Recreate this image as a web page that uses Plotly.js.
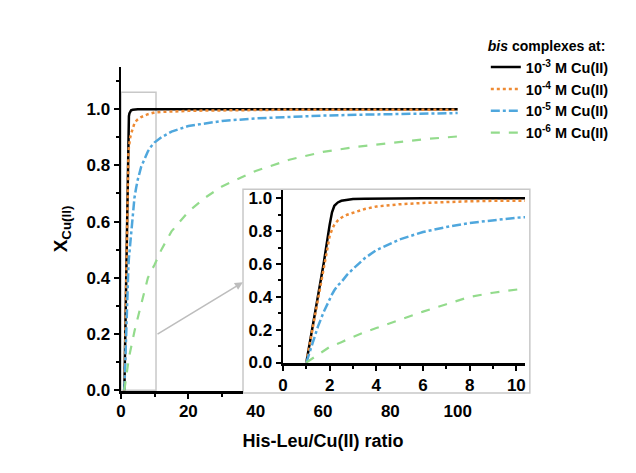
<!DOCTYPE html>
<html><head><meta charset="utf-8">
<script src="https://cdn.plot.ly/plotly-3.0.1.min.js"></script>
<style>body{margin:0;background:#fff}#chart{width:636px;height:473px}</style>
</head><body><div id="chart"></div>
<script>
// His-Leu/Cu(II) ratio
const ratio = [1, 1.25, 1.5, 1.75, 2, 2.1, 2.2, 2.35, 2.5, 2.75, 3, 3.5, 4, 4.5, 5, 6, 7, 8, 9, 10, 12, 15, 20, 25, 30, 40, 50, 60, 70, 80, 90, 100];
// fraction of bis complex at each Cu(II) concentration
const bis1e3 = [0, 0.2, 0.4, 0.61, 0.84, 0.915, 0.955, 0.975, 0.985, 0.992, 0.996, 0.998, 0.999, 1, 1, 1, 1, 1, 1, 1, 1, 1, 1, 1, 1, 1, 1, 1, 1, 1, 1, 1];
const bis1e4 = [0, 0.19, 0.38, 0.57, 0.77, 0.81, 0.84, 0.865, 0.882, 0.9, 0.912, 0.935, 0.95, 0.958, 0.964, 0.972, 0.978, 0.982, 0.985, 0.988, 0.99, 0.992, 0.994, 0.995, 0.996, 0.997, 0.998, 0.998, 0.998, 0.998, 0.998, 0.998];
const bis1e5 = [0, 0.11, 0.22, 0.31, 0.39, 0.415, 0.44, 0.47, 0.49, 0.535, 0.57, 0.635, 0.685, 0.72, 0.75, 0.795, 0.825, 0.85, 0.868, 0.882, 0.9, 0.92, 0.94, 0.95, 0.958, 0.967, 0.973, 0.977, 0.98, 0.982, 0.984, 0.986];
const bis1e6 = [0, 0.025, 0.05, 0.072, 0.095, 0.1, 0.107, 0.115, 0.124, 0.14, 0.156, 0.185, 0.21, 0.235, 0.26, 0.31, 0.355, 0.4, 0.425, 0.447, 0.5, 0.565, 0.635, 0.685, 0.725, 0.78, 0.82, 0.848, 0.866, 0.88, 0.893, 0.903];
const seriesNames = ['10<sup>-3</sup> M Cu(II)', '10<sup>-4</sup> M Cu(II)', '10<sup>-5</sup> M Cu(II)', '10<sup>-6</sup> M Cu(II)'];
const seriesY = [bis1e3, bis1e4, bis1e5, bis1e6];
const colors = ['#000000', '#EE8A33', '#4FA7DD', '#93DB8C'];
const dashes = ['solid', 'dot', 'dashdot', 'dash'];
const widths = [2.5, 2.5, 2.5, 2.2];
const mainXTicks = [0, 20, 40, 60, 80, 100];

const FONT = 'Liberation Sans, Arial, sans-serif';
const traces = [];
seriesY.forEach((ys, i) => {
  traces.push({x: ratio, y: ys, name: seriesNames[i], type: 'scatter', mode: 'lines',
    line: {color: colors[i], dash: dashes[i], width: widths[i]}, xaxis: 'x', yaxis: 'y', hoverinfo: 'skip'});
});
seriesY.forEach((ys, i) => {
  traces.push({x: ratio, y: ys, name: seriesNames[i], type: 'scatter', mode: 'lines', showlegend: false,
    line: {color: colors[i], dash: dashes[i], width: widths[i]}, xaxis: 'x2', yaxis: 'y2', hoverinfo: 'skip', cliponaxis: true});
});
traces.push({x: [null], y: [null], xaxis: 'x3', yaxis: 'y', showlegend: false, hoverinfo: 'skip', mode: 'lines'});

const tickFont = {family: FONT, size: 17, color: '#000', weight: 'bold'};
const layout = {
  width: 636, height: 473,
  margin: {l: 121, r: 111, t: 67, b: 82},
  paper_bgcolor: '#ffffff', plot_bgcolor: 'rgba(0,0,0,0)',
  showlegend: true,
  font: {family: FONT, color: '#000'},
  xaxis: {domain: [0, 1], range: [0, 120], tickvals: mainXTicks, ticks: 'outside', ticklen: 5,
    tickcolor: 'rgba(0,0,0,0)', showline: false, showgrid: false, zeroline: false, tickfont: tickFont,
    title: {text: 'His-Leu/Cu(II) ratio', font: {family: FONT, size: 18, weight: 'bold', color: '#000'}, standoff: 13}},
  xaxis3: {domain: [0, 0.302], range: [0, 36.24], anchor: 'y', showticklabels: false, ticks: 'outside',
    dtick: 20, tick0: 0, ticklen: 5, tickwidth: 2, tickcolor: '#000', showline: true, linewidth: 2.5, linecolor: '#000',
    showgrid: false, zeroline: false, minor: {ticks: 'outside', dtick: 10, ticklen: 3, tickwidth: 2, tickcolor: '#000'}},
  yaxis: {domain: [0, 1], range: [-0.003, 1.15], dtick: 0.2, tick0: 0, tickformat: '.1f', ticks: 'outside',
    ticklen: 5, tickwidth: 2, tickcolor: '#000', showline: true, linewidth: 2.5, linecolor: '#000',
    showgrid: false, zeroline: false, tickfont: tickFont,
    minor: {ticks: 'outside', dtick: 0.1, ticklen: 3, tickwidth: 2, tickcolor: '#000'},
    title: {text: 'X<sub>Cu(II)</sub>', font: {family: FONT, size: 19, weight: 'bold', color: '#000'}, standoff: 14}},
  xaxis2: {domain: [0.401, 1.0], range: [0, 10.37], anchor: 'y2', dtick: 2, tick0: 0, ticks: 'outside',
    ticklen: 5, tickwidth: 2, tickcolor: '#000', showline: true, linewidth: 2.5, linecolor: '#000',
    showgrid: false, zeroline: false, tickfont: tickFont,
    minor: {ticks: 'outside', dtick: 1, ticklen: 3, tickwidth: 2, tickcolor: '#000'}},
  yaxis2: {domain: [0.0864, 0.62], range: [-0.003, 1.05], anchor: 'x2', dtick: 0.2, tick0: 0, tickformat: '.1f',
    ticks: 'outside', ticklen: 5, tickwidth: 2, tickcolor: '#000', showline: true, linewidth: 2.5, linecolor: '#000',
    showgrid: false, zeroline: false, tickfont: tickFont,
    minor: {ticks: 'outside', dtick: 0.1, ticklen: 3, tickwidth: 2, tickcolor: '#000'}},
  shapes: [
    {type: 'rect', xref: 'paper', yref: 'paper', x0: 0.302, x1: 1.012, y0: -0.006, y1: 0.623,
      line: {color: '#c8c8c8', width: 1.5}, fillcolor: '#ffffff', layer: 'below'},
    {type: 'rect', xref: 'x', yref: 'y', x0: 0, x1: 10.4, y0: 0, y1: 1.06,
      line: {color: '#c8c8c8', width: 1.5}, fillcolor: 'rgba(0,0,0,0)', layer: 'below'}
  ],
  annotations: [
    {xref: 'x', yref: 'y', axref: 'x', ayref: 'y', x: 36.2, y: 0.384, ax: 10.4, ay: 0.196, text: '',
      showarrow: true, arrowhead: 2, arrowsize: 1, arrowwidth: 1.6, arrowcolor: '#bdbdbd'}
  ],
  legend: {x: 0.903, y: 1.105, xanchor: 'left', yanchor: 'top', bgcolor: 'rgba(0,0,0,0)',
    font: {family: FONT, size: 14.5, weight: 'bold', color: '#000'},
    title: {text: '<i>bis</i> complexes at:', font: {family: FONT, size: 14, weight: 'bold', color: '#000'}},
    tracegroupgap: 0}
};
Plotly.newPlot('chart', traces, layout, {displayModeBar: false, staticPlot: true});
</script>
</body></html>
